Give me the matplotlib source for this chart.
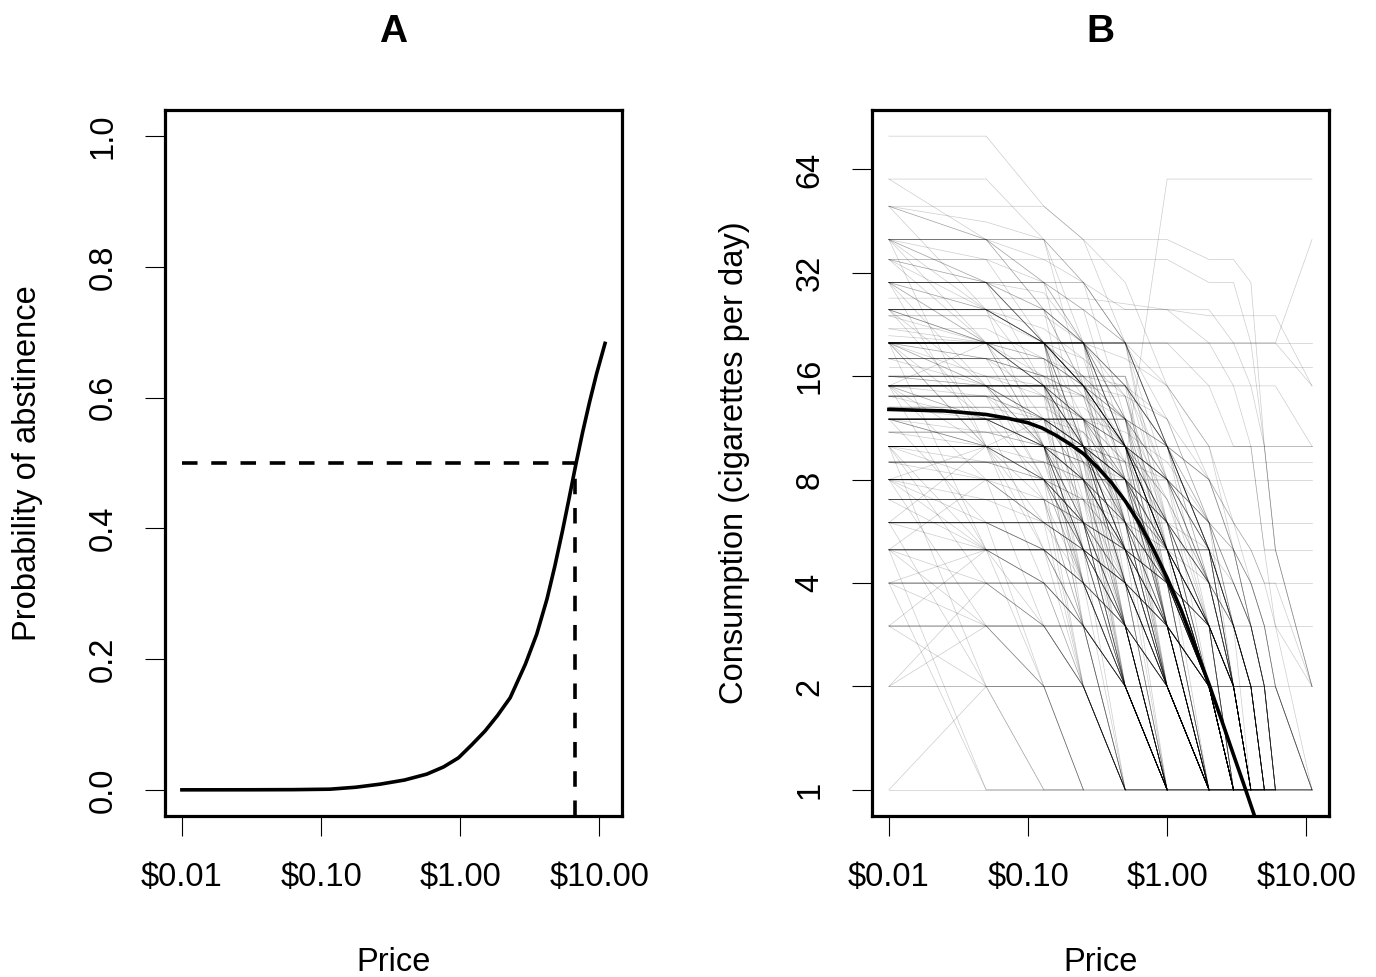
import matplotlib

matplotlib.use("Agg")
import matplotlib.pyplot as plt
import numpy as np

plt.rcParams["font.family"] = ["Liberation Sans", "DejaVu Sans"]

# Panel A: fitted probability of abstinence over price
ABST_PRICES = [0.01, 0.0316, 0.063, 0.116, 0.178, 0.266, 0.398, 0.575, 0.759, 0.973,
               1.20, 1.51, 1.86, 2.29, 2.94, 3.55, 4.21, 4.79, 5.45, 6.03, 6.76,
               7.59, 8.51, 9.55, 11.0]
ABST_PROB = [0.0, 0.0001, 0.0003, 0.001, 0.004, 0.0087, 0.015, 0.024, 0.035, 0.049,
             0.068, 0.090, 0.114, 0.141, 0.192, 0.238, 0.292, 0.342, 0.397, 0.443, 0.496,
             0.547, 0.593, 0.636, 0.683]
HALF_PROB = 0.5
PRICE_AT_HALF = 6.7

# Panel B: individual purchase-task responses (cigarettes per day at each price)
PRICES = [0.01, 0.05, 0.13, 0.25, 0.5, 1, 2, 3, 4, 5, 6, 11]
PARTICIPANTS = [
    [80, 80, 50, 40, 20, 10, 5, 2, 1, 0, 0, 0],
    [60, 60, 40, 30, 20, 10, 4, 2, 1, 0, 0, 0],
    [50, 50, 50, 40, 30, 15, 8, 5, 3, 2, 1, 0],
    [50, 40, 35, 30, 20, 10, 5, 3, 2, 1, 0, 0],
    [50, 45, 40, 20, 10, 5, 2, 1, 0, 0, 0, 0],
    [40, 40, 40, 40, 40, 40, 35, 35, 30, 10, 5, 2],
    [40, 30, 20, 15, 10, 5, 2, 1, 0, 0, 0, 0],
    [40, 25, 20, 10, 5, 3, 1, 0, 0, 0, 0, 0],
    [35, 35, 35, 35, 35, 35, 30, 30, 20, 10, 5, 0],
    [35, 30, 25, 20, 15, 10, 5, 3, 2, 1, 0, 0],
    [30, 30, 30, 30, 25, 25, 25, 20, 15, 10, 5, 2],
    [30, 20, 15, 10, 6, 3, 1, 0, 0, 0, 0, 0],
    [30, 25, 20, 20, 10, 8, 5, 2, 1, 0, 0, 0],
    [25, 25, 25, 25, 25, 25, 24, 24, 24, 24, 24, 15],
    [25, 20, 15, 10, 5, 2, 1, 0, 0, 0, 0, 0],
    [25, 15, 12, 8, 5, 3, 2, 1, 0, 0, 0, 0],
    [27, 27, 27, 27, 26, 25, 20, 15, 10, 5, 3, 1],
    [20, 20, 20, 20, 20, 20, 20, 20, 20, 20, 20, 20],
    [20, 20, 20, 20, 20, 20, 20, 20, 20, 20, 20, 40],
    [20, 20, 20, 20, 20, 20, 20, 20, 20, 20, 20, 15],
    [20, 15, 10, 10, 5, 5, 2, 1, 1, 0, 0, 0],
    [20, 20, 15, 10, 8, 5, 3, 2, 1, 1, 0, 0],
    [20, 10, 10, 5, 3, 2, 1, 0, 0, 0, 0, 0],
    [17, 17, 17, 17, 17, 17, 17, 17, 17, 17, 17, 17],
    [18, 15, 12, 10, 8, 5, 3, 2, 1, 0, 0, 0],
    [16, 15, 12, 10, 8, 6, 4, 3, 2, 1, 1, 0],
    [15, 15, 15, 15, 15, 15, 15, 15, 15, 15, 15, 10],
    [15, 12, 10, 8, 5, 3, 2, 1, 0, 0, 0, 0],
    [15, 10, 10, 8, 6, 4, 2, 1, 0, 0, 0, 0],
    [15, 15, 10, 5, 4, 3, 2, 1, 1, 1, 0, 0],
    [14, 14, 14, 10, 10, 5, 5, 2, 2, 1, 0, 0],
    [12, 12, 10, 10, 8, 5, 3, 2, 1, 0, 0, 0],
    [12, 10, 10, 8, 5, 3, 2, 1, 1, 0, 0, 0],
    [12, 12, 12, 10, 10, 8, 5, 3, 2, 2, 1, 0],
    [11, 10, 8, 6, 5, 4, 2, 1, 0, 0, 0, 0],
    [10, 10, 10, 10, 10, 10, 10, 10, 10, 10, 10, 10],
    [10, 10, 10, 10, 10, 10, 10, 10, 10, 10, 10, 10],
    [10, 10, 8, 6, 5, 3, 2, 1, 0, 0, 0, 0],
    [10, 8, 6, 5, 4, 3, 2, 1, 1, 0, 0, 0],
    [10, 10, 10, 8, 5, 4, 3, 2, 1, 1, 1, 0],
    [10, 5, 5, 3, 2, 1, 0, 0, 0, 0, 0, 0],
    [9, 9, 9, 9, 9, 9, 9, 9, 9, 9, 9, 9],
    [8, 8, 8, 8, 8, 8, 8, 8, 8, 8, 8, 8],
    [8, 8, 6, 5, 4, 3, 2, 1, 0, 0, 0, 0],
    [8, 6, 5, 4, 3, 2, 1, 1, 0, 0, 0, 0],
    [8, 8, 8, 6, 4, 2, 1, 0, 0, 0, 0, 0],
    [8, 5, 4, 3, 2, 1, 1, 0, 0, 0, 0, 0],
    [7, 7, 6, 5, 4, 3, 2, 1, 1, 0, 0, 0],
    [7, 5, 5, 4, 3, 2, 1, 0, 0, 0, 0, 0],
    [7, 7, 7, 7, 7, 5, 5, 3, 3, 2, 2, 1],
    [6, 6, 6, 6, 6, 6, 6, 6, 6, 6, 6, 6],
    [6, 6, 5, 4, 3, 2, 1, 1, 0, 0, 0, 0],
    [6, 5, 4, 3, 2, 1, 0, 0, 0, 0, 0, 0],
    [6, 6, 6, 5, 5, 4, 3, 2, 2, 1, 1, 0],
    [5, 5, 5, 5, 5, 5, 5, 5, 5, 5, 5, 5],
    [5, 5, 4, 3, 2, 1, 1, 0, 0, 0, 0, 0],
    [5, 4, 3, 2, 2, 1, 0, 0, 0, 0, 0, 0],
    [5, 5, 5, 4, 3, 3, 2, 1, 1, 1, 0, 0],
    [5, 3, 2, 2, 1, 1, 0, 0, 0, 0, 0, 0],
    [4, 4, 4, 4, 4, 4, 4, 4, 4, 4, 4, 4],
    [4, 4, 3, 3, 2, 2, 1, 1, 0, 0, 0, 0],
    [4, 1, 1, 0, 0, 0, 0, 0, 0, 0, 0, 0],
    [4, 3, 2, 2, 1, 1, 1, 0, 0, 0, 0, 0],
    [4, 5, 5, 4, 3, 2, 1, 0, 0, 0, 0, 0],
    [3, 3, 3, 3, 3, 3, 3, 3, 3, 3, 3, 3],
    [3, 2, 1, 1, 0, 0, 0, 0, 0, 0, 0, 0],
    [3, 3, 3, 2, 2, 1, 1, 0, 0, 0, 0, 0],
    [2, 2, 2, 2, 2, 2, 2, 2, 2, 2, 2, 2],
    [2, 2, 2, 2, 1, 1, 1, 1, 1, 1, 1, 1],
    [2, 4, 4, 3, 2, 1, 1, 0, 0, 0, 0, 0],
    [1, 1, 1, 1, 1, 1, 1, 1, 1, 1, 1, 1],
    [20, 20, 20, 15, 10, 4, 1, 0, 0, 0, 0, 0],
    [15, 15, 15, 12, 8, 3, 1, 0, 0, 0, 0, 0],
    [12, 12, 12, 10, 5, 2, 1, 0, 0, 0, 0, 0],
    [10, 10, 10, 10, 6, 3, 1, 1, 0, 0, 0, 0],
    [20, 20, 18, 15, 10, 5, 2, 1, 0, 0, 0, 0],
    [15, 14, 12, 10, 7, 4, 2, 1, 1, 0, 0, 0],
    [25, 25, 20, 15, 10, 6, 3, 2, 1, 0, 0, 0],
    [10, 10, 9, 8, 6, 4, 3, 2, 1, 1, 0, 0],
    [30, 30, 25, 20, 15, 8, 4, 2, 1, 1, 0, 0],
    [12, 11, 10, 9, 7, 5, 3, 2, 1, 0, 0, 0],
    [8, 8, 7, 6, 5, 4, 3, 2, 1, 1, 0, 0],
    [20, 18, 16, 14, 12, 10, 6, 4, 3, 2, 1, 1],
    [40, 35, 30, 25, 20, 12, 6, 3, 2, 1, 0, 0],
    [12, 12, 12, 12, 12, 10, 8, 6, 5, 4, 3, 2],
    [21, 20, 15, 12, 10, 8, 5, 3, 2, 1, 0, 0],
    [10, 10, 10, 10, 9, 60, 60, 60, 60, 60, 60, 60],
    [24, 20, 20, 15, 12, 8, 4, 2, 1, 0, 0, 0],
    [13, 12, 12, 10, 8, 6, 4, 2, 1, 1, 0, 0],
    [9, 8, 8, 6, 5, 4, 2, 1, 1, 0, 0, 0],
    [20, 20, 20, 10, 5, 2, 1, 0, 0, 0, 0, 0],
    [20, 20, 20, 20, 10, 5, 2, 1, 0, 0, 0, 0],
    [20, 20, 15, 15, 10, 5, 3, 1, 1, 0, 0, 0],
    [20, 20, 20, 15, 15, 10, 5, 2, 1, 1, 0, 0],
    [15, 15, 15, 10, 10, 5, 2, 1, 0, 0, 0, 0],
    [15, 15, 15, 15, 10, 6, 3, 2, 1, 0, 0, 0],
    [15, 15, 12, 10, 5, 2, 0, 0, 0, 0, 0, 0],
    [12, 12, 12, 12, 8, 4, 2, 1, 1, 0, 0, 0],
    [12, 12, 10, 6, 4, 2, 1, 0, 0, 0, 0, 0],
    [10, 10, 10, 5, 3, 1, 0, 0, 0, 0, 0, 0],
    [10, 10, 10, 8, 8, 5, 3, 2, 1, 0, 0, 0],
    [10, 10, 10, 10, 10, 5, 2, 1, 1, 1, 0, 0],
    [10, 10, 10, 10, 5, 5, 5, 2, 2, 1, 1, 0],
    [10, 10, 8, 8, 5, 2, 1, 0, 0, 0, 0, 0],
    [8, 8, 8, 8, 6, 4, 2, 1, 0, 0, 0, 0],
    [8, 8, 8, 5, 3, 1, 0, 0, 0, 0, 0, 0],
    [8, 8, 8, 8, 8, 4, 3, 2, 2, 1, 1, 0],
    [6, 6, 6, 5, 4, 2, 1, 0, 0, 0, 0, 0],
    [6, 6, 6, 6, 3, 2, 1, 1, 1, 0, 0, 0],
    [5, 5, 5, 5, 4, 2, 1, 1, 0, 0, 0, 0],
    [5, 5, 5, 3, 2, 1, 0, 0, 0, 0, 0, 0],
    [30, 30, 20, 15, 10, 5, 2, 1, 0, 0, 0, 0],
    [30, 25, 20, 15, 8, 4, 2, 1, 1, 0, 0, 0],
    [25, 25, 25, 20, 10, 5, 3, 1, 0, 0, 0, 0],
    [25, 20, 20, 15, 10, 8, 5, 3, 2, 1, 1, 0],
    [40, 40, 30, 20, 10, 5, 2, 1, 0, 0, 0, 0],
    [40, 40, 40, 30, 20, 10, 5, 3, 2, 1, 0, 0],
    [50, 40, 30, 20, 15, 10, 5, 3, 2, 2, 1, 0],
    [35, 30, 20, 20, 10, 5, 5, 2, 1, 0, 0, 0],
    [20, 16, 15, 12, 10, 6, 4, 2, 1, 1, 0, 0],
    [16, 16, 16, 16, 12, 8, 4, 2, 1, 0, 0, 0],
    [14, 12, 10, 8, 6, 4, 2, 2, 1, 0, 0, 0],
    [18, 18, 16, 14, 10, 6, 3, 2, 1, 0, 0, 0],
    [15, 15, 15, 10, 8, 6, 5, 4, 3, 2, 1, 0],
    [10, 10, 10, 10, 8, 6, 4, 3, 2, 2, 1, 1],
    [12, 12, 10, 10, 8, 6, 4, 4, 3, 2, 2, 1],
    [20, 20, 20, 20, 15, 10, 8, 5, 4, 3, 2, 1],
    [10, 9, 8, 7, 6, 5, 4, 3, 2, 1, 1, 0],
    [7, 7, 7, 6, 5, 3, 2, 1, 0, 0, 0, 0],
    [9, 9, 9, 8, 5, 3, 1, 0, 0, 0, 0, 0],
    [11, 11, 11, 10, 7, 4, 2, 1, 0, 0, 0, 0],
    [14, 14, 12, 10, 7, 4, 2, 1, 1, 0, 0, 0],
    [16, 15, 15, 12, 9, 6, 3, 1, 0, 0, 0, 0],
    [20, 20, 16, 12, 8, 5, 3, 2, 1, 0, 0, 0],
    [25, 25, 20, 16, 12, 7, 4, 2, 1, 1, 0, 0],
    [30, 30, 30, 25, 20, 10, 6, 3, 2, 1, 0, 0],
    [10, 10, 10, 9, 7, 5, 3, 2, 1, 0, 0, 0],
    [8, 7, 7, 6, 4, 3, 2, 1, 1, 0, 0, 0],
    [6, 6, 5, 5, 4, 3, 2, 2, 1, 1, 0, 0],
    [4, 4, 4, 3, 3, 2, 1, 1, 1, 0, 0, 0],
    [3, 3, 3, 3, 2, 2, 1, 1, 1, 1, 0, 0],
    [15, 15, 15, 15, 15, 10, 5, 3, 2, 1, 1, 0],
    [20, 20, 20, 20, 20, 15, 10, 5, 3, 2, 1, 0],
    [12, 12, 12, 12, 10, 8, 6, 4, 3, 2, 1, 0],
    [10, 10, 10, 10, 10, 8, 6, 5, 4, 3, 2, 1],
    [24, 24, 20, 15, 10, 5, 2, 1, 0, 0, 0, 0],
    [22, 20, 18, 15, 12, 8, 4, 2, 1, 0, 0, 0],
    [13, 13, 13, 11, 8, 5, 3, 1, 0, 0, 0, 0],
    [9, 9, 8, 8, 6, 4, 2, 1, 0, 0, 0, 0],
    [7, 7, 7, 7, 5, 4, 3, 2, 1, 0, 0, 0],
    [5, 5, 5, 5, 5, 4, 3, 2, 2, 1, 1, 0],
    [40, 20, 10, 5, 2, 1, 0, 0, 0, 0, 0, 0],
    [30, 15, 10, 5, 3, 1, 0, 0, 0, 0, 0, 0],
    [20, 10, 8, 5, 3, 2, 1, 0, 0, 0, 0, 0],
    [15, 8, 6, 4, 2, 1, 1, 0, 0, 0, 0, 0],
    [35, 25, 20, 15, 10, 7, 4, 2, 1, 0, 0, 0],
    [12, 10, 10, 10, 10, 8, 5, 5, 3, 2, 1, 1],
    [8, 8, 8, 8, 8, 8, 6, 5, 4, 3, 2, 1],
    [20, 20, 20, 20, 20, 20, 15, 10, 10, 5, 5, 2],
    [10, 10, 10, 10, 10, 10, 8, 6, 5, 4, 4, 2],
    [20, 20, 20, 8, 2, 1, 0, 0, 0, 0, 0, 0],
    [20, 15, 15, 6, 3, 1, 0, 0, 0, 0, 0, 0],
    [20, 20, 12, 5, 1, 0, 0, 0, 0, 0, 0, 0],
    [20, 20, 20, 20, 4, 1, 0, 0, 0, 0, 0, 0],
    [18, 18, 10, 4, 2, 1, 0, 0, 0, 0, 0, 0],
    [16, 16, 16, 7, 3, 2, 1, 0, 0, 0, 0, 0],
    [15, 15, 15, 3, 1, 0, 0, 0, 0, 0, 0, 0],
    [15, 15, 8, 4, 2, 1, 1, 0, 0, 0, 0, 0],
    [15, 12, 12, 12, 3, 1, 0, 0, 0, 0, 0, 0],
    [14, 14, 7, 3, 1, 0, 0, 0, 0, 0, 0, 0],
    [12, 12, 12, 6, 2, 1, 0, 0, 0, 0, 0, 0],
    [12, 12, 5, 2, 1, 1, 0, 0, 0, 0, 0, 0],
    [12, 10, 10, 3, 1, 0, 0, 0, 0, 0, 0, 0],
    [10, 10, 10, 3, 2, 1, 0, 0, 0, 0, 0, 0],
    [10, 10, 4, 2, 1, 0, 0, 0, 0, 0, 0, 0],
    [10, 10, 10, 10, 2, 1, 0, 0, 0, 0, 0, 0],
    [10, 10, 6, 6, 3, 1, 0, 0, 0, 0, 0, 0],
    [9, 9, 9, 4, 2, 1, 0, 0, 0, 0, 0, 0],
    [8, 8, 3, 2, 1, 0, 0, 0, 0, 0, 0, 0],
    [8, 8, 8, 2, 1, 0, 0, 0, 0, 0, 0, 0],
    [7, 7, 7, 3, 1, 1, 0, 0, 0, 0, 0, 0],
    [6, 6, 2, 1, 0, 0, 0, 0, 0, 0, 0, 0],
    [6, 6, 6, 2, 1, 0, 0, 0, 0, 0, 0, 0],
    [5, 5, 2, 1, 1, 0, 0, 0, 0, 0, 0, 0],
    [25, 25, 10, 5, 2, 1, 0, 0, 0, 0, 0, 0],
    [25, 20, 20, 8, 3, 1, 0, 0, 0, 0, 0, 0],
    [30, 30, 15, 8, 4, 2, 1, 0, 0, 0, 0, 0],
    [30, 20, 20, 10, 3, 1, 0, 0, 0, 0, 0, 0],
    [40, 30, 20, 6, 2, 1, 0, 0, 0, 0, 0, 0],
    [35, 35, 20, 10, 4, 2, 1, 0, 0, 0, 0, 0],
    [20, 20, 20, 20, 12, 3, 1, 0, 0, 0, 0, 0],
    [20, 20, 20, 18, 14, 6, 2, 1, 0, 0, 0, 0],
    [18, 18, 18, 15, 9, 2, 1, 0, 0, 0, 0, 0],
    [16, 16, 14, 12, 6, 2, 1, 1, 0, 0, 0, 0],
    [15, 15, 15, 14, 10, 2, 1, 0, 0, 0, 0, 0],
    [15, 15, 15, 15, 12, 5, 1, 1, 0, 0, 0, 0],
    [14, 14, 14, 12, 9, 3, 1, 0, 0, 0, 0, 0],
    [13, 13, 12, 12, 7, 2, 1, 0, 0, 0, 0, 0],
    [12, 12, 12, 11, 6, 1, 0, 0, 0, 0, 0, 0],
    [12, 12, 12, 9, 9, 3, 2, 1, 0, 0, 0, 0],
    [11, 11, 10, 10, 4, 2, 1, 0, 0, 0, 0, 0],
    [10, 10, 10, 9, 8, 2, 1, 0, 0, 0, 0, 0],
    [10, 10, 10, 10, 7, 4, 1, 0, 0, 0, 0, 0],
    [9, 9, 9, 9, 6, 3, 1, 1, 0, 0, 0, 0],
    [8, 8, 8, 7, 7, 2, 1, 0, 0, 0, 0, 0],
    [8, 8, 8, 8, 5, 3, 1, 0, 0, 0, 0, 0],
    [7, 7, 7, 7, 4, 2, 1, 1, 0, 0, 0, 0],
    [6, 6, 6, 6, 5, 2, 1, 0, 0, 0, 0, 0],
    [5, 5, 5, 5, 3, 1, 1, 0, 0, 0, 0, 0],
    [4, 4, 4, 4, 3, 1, 0, 0, 0, 0, 0, 0],
    [24, 24, 24, 20, 12, 6, 2, 1, 0, 0, 0, 0],
    [30, 30, 28, 20, 14, 5, 2, 1, 0, 0, 0, 0],
    [20, 18, 18, 16, 10, 3, 2, 1, 0, 0, 0, 0],
    [25, 25, 22, 18, 8, 3, 1, 0, 0, 0, 0, 0],
    [20, 20, 20, 16, 16, 8, 3, 1, 1, 0, 0, 0],
    [20, 20, 20, 20, 20, 10, 3, 1, 1, 0, 0, 0],
    [15, 15, 15, 15, 15, 12, 6, 2, 1, 1, 0, 0],
    [12, 12, 12, 12, 12, 10, 4, 3, 1, 1, 1, 0],
    [10, 10, 10, 10, 10, 10, 5, 2, 1, 1, 0, 0],
    [10, 10, 10, 10, 10, 7, 3, 2, 2, 1, 1, 0],
    [8, 8, 8, 8, 8, 6, 4, 2, 1, 1, 1, 0],
    [6, 6, 6, 6, 6, 5, 3, 2, 1, 0, 0, 0],
    [5, 5, 5, 5, 5, 5, 3, 3, 2, 2, 1, 0],
    [4, 4, 4, 4, 4, 3, 2, 2, 1, 1, 1, 1],
    [3, 3, 3, 3, 3, 3, 2, 2, 2, 1, 1, 1],
    [20, 20, 20, 20, 18, 15, 10, 6, 4, 3, 2, 1],
    [15, 15, 15, 15, 14, 12, 8, 5, 3, 2, 1, 1],
    [10, 10, 10, 10, 9, 8, 6, 4, 3, 2, 1, 0],
    [16, 16, 16, 16, 15, 10, 5, 3, 2, 1, 0, 0],
    [12, 12, 12, 12, 11, 9, 6, 3, 2, 1, 1, 0],
    [40, 10, 8, 5, 3, 1, 0, 0, 0, 0, 0, 0],
    [30, 10, 5, 3, 1, 0, 0, 0, 0, 0, 0, 0],
    [25, 12, 10, 6, 3, 2, 1, 0, 0, 0, 0, 0],
    [20, 5, 4, 2, 1, 0, 0, 0, 0, 0, 0, 0],
    [20, 12, 10, 7, 5, 3, 1, 0, 0, 0, 0, 0],
    [15, 5, 3, 2, 1, 1, 0, 0, 0, 0, 0, 0],
    [12, 6, 5, 4, 2, 1, 0, 0, 0, 0, 0, 0],
    [10, 4, 3, 2, 1, 0, 0, 0, 0, 0, 0, 0],
    [10, 2, 1, 1, 0, 0, 0, 0, 0, 0, 0, 0],
    [8, 3, 2, 1, 1, 0, 0, 0, 0, 0, 0, 0],
    [6, 2, 2, 1, 0, 0, 0, 0, 0, 0, 0, 0],
    [5, 1, 1, 1, 0, 0, 0, 0, 0, 0, 0, 0],
    [50, 25, 20, 15, 10, 5, 3, 1, 0, 0, 0, 0],
    [35, 20, 15, 10, 6, 4, 2, 1, 0, 0, 0, 0],
    [60, 40, 25, 15, 10, 6, 3, 2, 1, 0, 0, 0],
    [3, 5, 5, 5, 4, 2, 1, 0, 0, 0, 0, 0],
    [5, 8, 8, 6, 4, 3, 1, 0, 0, 0, 0, 0],
    [6, 10, 10, 8, 5, 2, 1, 0, 0, 0, 0, 0],
    [1, 2, 2, 2, 1, 1, 0, 0, 0, 0, 0, 0],
    [10, 10, 12, 12, 10, 6, 3, 1, 0, 0, 0, 0],
    [8, 10, 10, 10, 8, 4, 2, 1, 0, 0, 0, 0],
    [2, 3, 3, 3, 2, 2, 1, 1, 0, 0, 0, 0],
    [15, 20, 20, 15, 10, 5, 2, 1, 0, 0, 0, 0],
    [20, 20, 20, 6, 3, 1, 0, 0, 0, 0, 0, 0],
    [20, 20, 20, 12, 3, 1, 0, 0, 0, 0, 0, 0],
    [18, 18, 18, 5, 2, 1, 0, 0, 0, 0, 0, 0],
    [15, 15, 15, 6, 2, 1, 0, 0, 0, 0, 0, 0],
    [15, 15, 15, 9, 2, 1, 0, 0, 0, 0, 0, 0],
    [14, 14, 14, 4, 2, 1, 0, 0, 0, 0, 0, 0],
    [12, 12, 12, 4, 2, 1, 0, 0, 0, 0, 0, 0],
    [12, 12, 12, 8, 2, 1, 0, 0, 0, 0, 0, 0],
    [10, 10, 10, 4, 1, 0, 0, 0, 0, 0, 0, 0],
    [10, 10, 10, 6, 2, 1, 0, 0, 0, 0, 0, 0],
    [9, 9, 9, 5, 2, 1, 0, 0, 0, 0, 0, 0],
    [8, 8, 8, 4, 2, 1, 0, 0, 0, 0, 0, 0],
    [7, 7, 7, 2, 1, 0, 0, 0, 0, 0, 0, 0],
    [30, 30, 30, 10, 4, 1, 0, 0, 0, 0, 0, 0],
    [25, 25, 25, 8, 3, 1, 0, 0, 0, 0, 0, 0],
    [40, 40, 40, 15, 6, 2, 1, 0, 0, 0, 0, 0],
    [20, 20, 20, 20, 6, 2, 1, 0, 0, 0, 0, 0],
    [20, 20, 20, 20, 8, 3, 1, 0, 0, 0, 0, 0],
    [16, 16, 16, 16, 5, 2, 1, 0, 0, 0, 0, 0],
    [15, 15, 15, 15, 5, 1, 0, 0, 0, 0, 0, 0],
    [14, 14, 14, 14, 6, 2, 1, 0, 0, 0, 0, 0],
    [12, 12, 12, 12, 4, 1, 0, 0, 0, 0, 0, 0],
    [12, 12, 12, 12, 6, 2, 1, 0, 0, 0, 0, 0],
    [10, 10, 10, 10, 4, 2, 1, 0, 0, 0, 0, 0],
    [10, 10, 10, 10, 3, 1, 0, 0, 0, 0, 0, 0],
    [9, 9, 9, 9, 3, 1, 0, 0, 0, 0, 0, 0],
    [8, 8, 8, 8, 3, 1, 0, 0, 0, 0, 0, 0],
    [7, 7, 7, 7, 2, 1, 0, 0, 0, 0, 0, 0],
    [6, 6, 6, 6, 2, 1, 0, 0, 0, 0, 0, 0],
    [25, 25, 25, 25, 10, 3, 1, 0, 0, 0, 0, 0],
    [30, 30, 30, 30, 12, 4, 1, 0, 0, 0, 0, 0],
    [20, 20, 20, 20, 20, 5, 2, 1, 0, 0, 0, 0],
    [15, 15, 15, 15, 15, 4, 1, 0, 0, 0, 0, 0],
    [12, 12, 12, 12, 12, 3, 1, 0, 0, 0, 0, 0],
    [10, 10, 10, 10, 10, 3, 1, 0, 0, 0, 0, 0],
    [8, 8, 8, 8, 8, 2, 1, 0, 0, 0, 0, 0],
    [6, 6, 6, 6, 6, 2, 1, 0, 0, 0, 0, 0],
    [20, 20, 20, 20, 20, 8, 2, 1, 0, 0, 0, 0],
    [16, 16, 16, 16, 16, 6, 2, 1, 0, 0, 0, 0],
    [14, 14, 14, 14, 14, 5, 2, 1, 0, 0, 0, 0],
    [25, 25, 25, 20, 20, 6, 2, 1, 0, 0, 0, 0],
    [18, 18, 16, 16, 16, 4, 1, 0, 0, 0, 0, 0],
    [12, 12, 12, 10, 10, 3, 1, 1, 0, 0, 0, 0],
    [11, 11, 11, 11, 8, 3, 1, 0, 0, 0, 0, 0],
    [13, 13, 13, 13, 10, 4, 1, 0, 0, 0, 0, 0],
    [20, 20, 20, 20, 12, 5, 2, 1, 0, 0, 0, 0],
    [15, 15, 15, 12, 12, 4, 2, 1, 0, 0, 0, 0],
    [10, 10, 10, 10, 6, 6, 2, 1, 0, 0, 0, 0],
    [8, 8, 8, 6, 6, 3, 1, 0, 0, 0, 0, 0],
    [20, 20, 20, 14, 6, 3, 1, 0, 0, 0, 0, 0],
    [30, 30, 20, 20, 8, 3, 1, 0, 0, 0, 0, 0],
    [40, 40, 25, 15, 6, 2, 1, 0, 0, 0, 0, 0],
    [25, 25, 15, 10, 4, 2, 1, 0, 0, 0, 0, 0],
    [20, 20, 10, 10, 4, 1, 0, 0, 0, 0, 0, 0],
    [16, 16, 8, 6, 3, 1, 0, 0, 0, 0, 0, 0],
    [14, 14, 10, 6, 2, 1, 0, 0, 0, 0, 0, 0],
    [12, 12, 8, 5, 2, 1, 0, 0, 0, 0, 0, 0],
    [10, 10, 7, 4, 2, 1, 0, 0, 0, 0, 0, 0],
    [18, 18, 14, 9, 4, 2, 1, 0, 0, 0, 0, 0],
    [22, 22, 18, 10, 5, 2, 1, 0, 0, 0, 0, 0],
]

# Panel B: fitted demand curve
MODEL_PRICES = [0.01, 0.0251, 0.0501, 0.0708, 0.1, 0.126, 0.158, 0.2, 0.251, 0.316,
                0.398, 0.501, 0.631, 0.794, 1.0, 1.26, 1.58, 2.0, 2.51, 3.16, 3.55, 4.47]
MODEL_CONSUMPTION = [12.81, 12.68, 12.38, 12.08, 11.71, 11.31, 10.78, 10.16, 9.51, 8.69,
                     7.84, 6.92, 5.98, 5.03, 4.14, 3.34, 2.62, 2.03, 1.56, 1.19, 1.04, 0.79]

X_TICKS = [0.01, 0.1, 1, 10]
X_TICK_LABELS = [r"\$0.01", r"\$0.10", r"\$1.00", r"\$10.00"]
A_Y_TICKS = [0.0, 0.2, 0.4, 0.6, 0.8, 1.0]
B_Y_TICKS = [1, 2, 4, 8, 16, 32, 64]

FS = 23.5


def r_log_limits(lo, hi):
    # R-style 4% padding on a log axis
    lo, hi = np.log10(lo), np.log10(hi)
    pad = 0.04 * (hi - lo)
    return 10 ** (lo - pad), 10 ** (hi + pad)


def style_axes(ax):
    for side in ax.spines.values():
        side.set_linewidth(2.3)
    ax.set_xscale("log")
    ax.set_xlim(*r_log_limits(min(PRICES), max(PRICES)))
    ax.set_xticks(X_TICKS)
    ax.set_xticklabels(X_TICK_LABELS)
    ax.xaxis.set_minor_locator(matplotlib.ticker.NullLocator())
    ax.tick_params(axis="both", which="major", length=14.4, width=0.8, pad=19, labelsize=FS)
    ax.set_xlabel("Price", fontsize=FS)
    ax.xaxis.set_label_coords(0.5, -0.185)


fig = plt.figure(figsize=(13.76, 9.77), dpi=100)
ax_a = fig.add_axes([0.1199, 0.1648, 0.3321, 0.7226])
ax_b = fig.add_axes([0.6337, 0.1648, 0.3321, 0.7226])

# ---- A
dash = (0, (4.3, 3.8))
ax_a.plot(ABST_PRICES, ABST_PROB, color="black", lw=2.6)
ax_a.set_ylim(-0.04, 1.04)
ax_a.plot([min(PRICES), PRICE_AT_HALF], [HALF_PROB, HALF_PROB], color="black", lw=2.6, ls=dash)
ax_a.plot([PRICE_AT_HALF, PRICE_AT_HALF], [ax_a.get_ylim()[0], HALF_PROB], color="black",
          lw=2.6, ls=dash)
style_axes(ax_a)
ax_a.set_yticks(A_Y_TICKS)
ax_a.set_yticklabels([f"{v:.1f}" for v in A_Y_TICKS], rotation=90, va="center")
ax_a.set_ylabel("Probability of abstinence", fontsize=FS)
ax_a.yaxis.set_label_coords(-0.268, 0.5)
ax_a.set_title("A", fontsize=28, fontweight="bold", pad=49)

# ---- B
ax_b.set_yscale("log", base=2)
prices = np.array(PRICES)
for row in PARTICIPANTS:
    q = np.array(row, dtype=float)
    q[q <= 0] = np.nan
    ax_b.plot(prices, q, color="black", alpha=0.2, lw=0.5)
ax_b.plot(MODEL_PRICES, MODEL_CONSUMPTION, color="black", lw=2.6)
ax_b.set_ylim(*r_log_limits(1, max(max(r) for r in PARTICIPANTS)))
style_axes(ax_b)
ax_b.set_yticks(B_Y_TICKS)
ax_b.yaxis.set_minor_locator(matplotlib.ticker.NullLocator())
ax_b.set_yticklabels([str(v) for v in B_Y_TICKS], rotation=90, va="center")
ax_b.set_ylabel("Consumption (cigarettes per day)", fontsize=FS)
ax_b.yaxis.set_label_coords(-0.268, 0.5)
ax_b.set_title("B", fontsize=28, fontweight="bold", pad=49)

fig.savefig("out.png", dpi=100)
